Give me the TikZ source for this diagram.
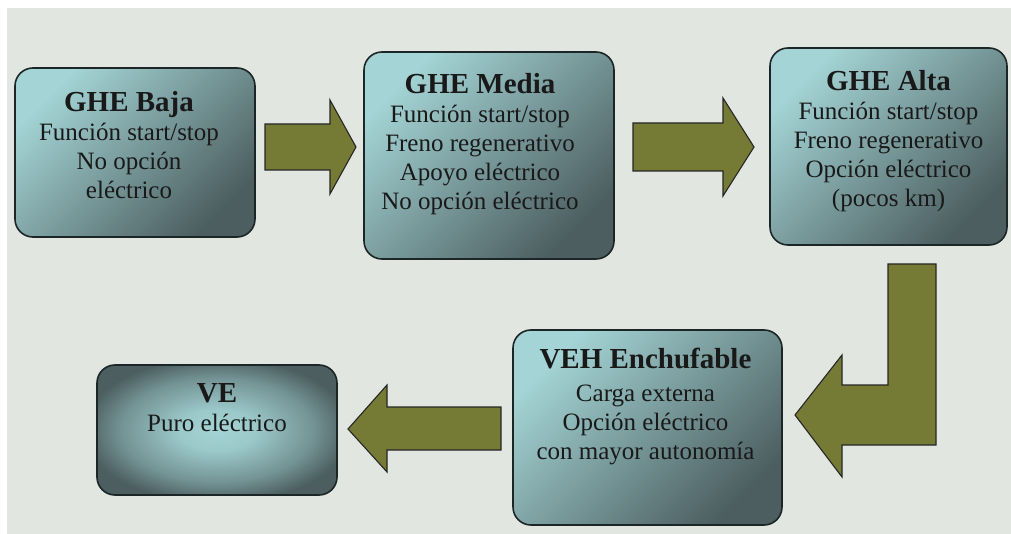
\documentclass[tikz,border=0pt]{standalone}
\usepackage{fontspec}
\setmainfont{Liberation Serif}
\usepackage{tikz}

\definecolor{bgrey}{RGB}{226,230,225}
\definecolor{tealhi}{RGB}{164,212,213}
\definecolor{teallo}{RGB}{76,94,96}
\definecolor{boxline}{RGB}{28,38,38}
\definecolor{olivefill}{RGB}{117,122,52}

\pgfdeclareradialshading{veglow}{\pgfpoint{0bp}{0bp}}{%
    color(0bp)=(tealhi); color(8bp)=(tealhi!90!teallo);
    color(20bp)=(tealhi!45!teallo); color(28bp)=(teallo); color(50bp)=(teallo)}

\begin{document}
\begin{tikzpicture}[
        x=1pt, y=-1pt,
        stage/.style={draw=boxline, line width=1.6pt, rounded corners=18pt,
            top color=tealhi, bottom color=teallo, shading angle=45},
        stagetext/.style={anchor=north, inner sep=0pt, align=center,
            font=\fontsize{25}{29}\selectfont, text=black!90},
        blockarrow/.style={fill=olivefill, draw=black!85, line width=1.1pt}
    ]
    \useasboundingbox (0,0) rectangle (1011,534);
    \fill[white] (0,0) rectangle (1011,534);
    \fill[bgrey] (7,8) rectangle (1011,534);

    % stages
    \node[stage, minimum width=240pt, minimum height=169pt] (baja) at (135,152.5) {};
    \node[stage, minimum width=250pt, minimum height=207pt] (media) at (489,155.5) {};
    \node[stage, minimum width=237pt, minimum height=197pt] (alta) at (888.5,146.5) {};
    \node[stage, minimum width=269pt, minimum height=195pt] (veh) at (647.5,427.5) {};
    \node[draw=boxline, line width=1.6pt, rounded corners=18pt, shading=veglow,
        minimum width=240pt, minimum height=130pt] (ve) at (217,430) {};

    % texts
    \node[stagetext] (bajatxt) at ([xshift=-6pt, yshift=-24pt]baja.north)
        {{\fontsize{29}{29}\selectfont\bfseries GHE Baja}\\
         Función start/stop\\ No opción\\ eléctrico};
    \node[stagetext] (mediatxt) at ([xshift=-9pt, yshift=-22pt]media.north)
        {{\fontsize{29}{29}\selectfont\bfseries GHE Media}\\
         Función start/stop\\ Freno regenerativo\\ Apoyo  eléctrico\\ No opción eléctrico};
    \node[stagetext] (altatxt) at ([xshift=0pt, yshift=-23pt]alta.north)
        {{\fontsize{29}{29}\selectfont\bfseries GHE Alta}\\
         Función start/stop\\ Freno regenerativo\\ Opción eléctrico\\ (pocos km)};
    \node[stagetext] (vehtxt) at ([xshift=-2pt, yshift=-19pt]veh.north)
        {{\fontsize{29}{29}\selectfont\bfseries VEH Enchufable}\\[4pt]
         Carga  externa\\ Opción eléctrico\\ con  mayor  autonomía};
    \node[stagetext] (vetxt) at ([yshift=-19.5pt]ve.north)
        {{\fontsize{29}{29}\selectfont\bfseries VE}\\ Puro eléctrico};

    % block arrows
    \draw[blockarrow] (265,124) -- (330,124) -- (330,100) -- (356,147)
        -- (330,194) -- (330,170) -- (265,170) -- cycle;
    \draw[blockarrow] (633,123) -- (723,123) -- (723,98) -- (754,147)
        -- (723,196) -- (723,171) -- (633,171) -- cycle;
    \draw[blockarrow] (888,264) -- (936,264) -- (936,445) -- (842,445)
        -- (842,477) -- (795,415) -- (842,355) -- (842,385) -- (888,385) -- cycle;
    \draw[blockarrow] (501,407) -- (387,407) -- (387,385) -- (348,429)
        -- (387,472) -- (387,450) -- (501,450) -- cycle;
\end{tikzpicture}
\end{document}
